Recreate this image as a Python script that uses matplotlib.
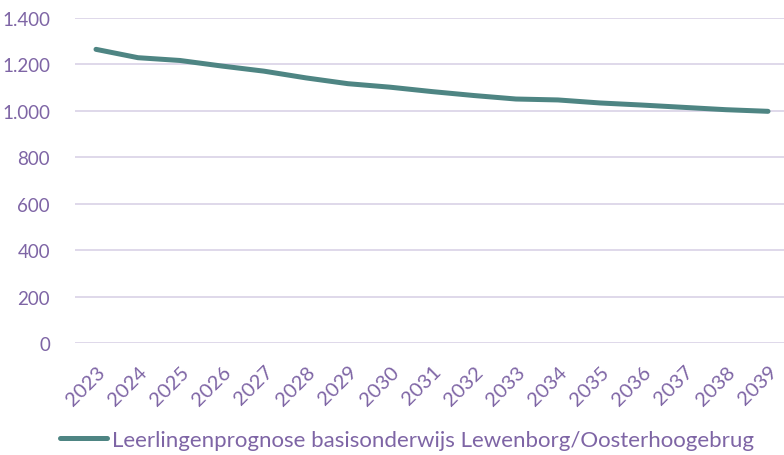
import matplotlib
matplotlib.use("Agg")
import matplotlib.pyplot as plt
from matplotlib.ticker import FuncFormatter

# ===== data =====
years = [str(y) for y in range(2023, 2040)]
leerlingen = [1265, 1229, 1217, 1193, 1171, 1142, 1117, 1102, 1083, 1066,
              1051, 1047, 1034, 1025, 1015, 1005, 998]
series_name = "Leerlingenprognose basisonderwijs Lewenborg/Oosterhoogebrug"

# ===== style =====
txt_col = "#7e65a5"
grid_col = "#dcd5e8"
line_col = "#4e8583"
plt.rcParams['font.family'] = ['Lato', 'DejaVu Sans']

fig = plt.figure(figsize=(7.84, 4.56), dpi=100)
W, H = 784, 456
ax = fig.add_axes([75/W, (H-344)/H, 714/W, 325/H])

x = list(range(len(years)))
ax.plot(x, leerlingen, color=line_col, lw=3.6, solid_capstyle='round', label=series_name)

ax.set_xlim(-0.5, len(years)-0.5)
ax.set_ylim(0, 1400)
ax.set_yticks(range(0, 1401, 200))
ax.yaxis.set_major_formatter(FuncFormatter(lambda v, p: f"{int(v):,}".replace(",", ".")))
ax.grid(axis='y', color=grid_col, lw=1.3)
ax.set_axisbelow(True)
for s in ax.spines.values():
    s.set_visible(False)
ax.tick_params(axis='both', length=0, colors=txt_col, labelsize=13.5)
ax.tick_params(axis='y', pad=18)
ax.set_xticks(x)
ax.set_xticklabels(years, rotation=45, ha='right', va='top', rotation_mode='anchor',
                   fontsize=14.5)
ax.tick_params(axis='x', pad=14)

leg = fig.legend(loc='center', bbox_to_anchor=(407/W, 1-441/H), frameon=False,
                 fontsize=16, handlelength=2.1, handletextpad=0.2, labelcolor=txt_col)

fig.savefig("out.png", dpi=100)
